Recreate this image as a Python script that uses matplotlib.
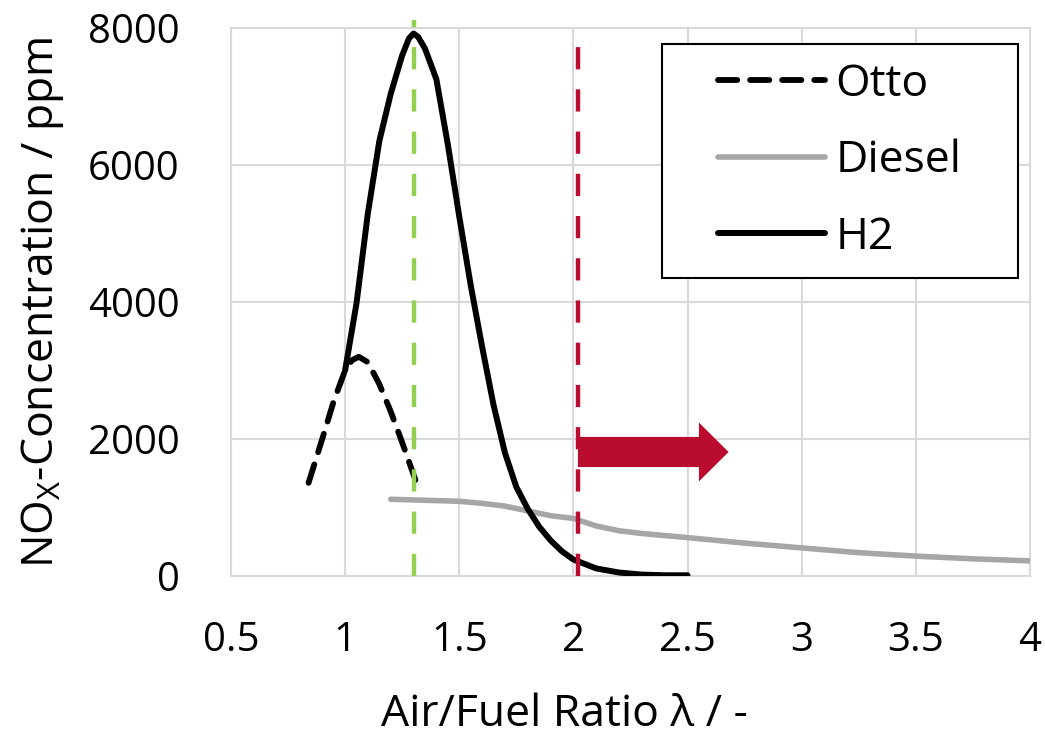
import matplotlib.pyplot as plt
from matplotlib.patches import Rectangle

plt.rcParams['font.family'] = ['Open Sans', 'DejaVu Sans']

# Otto (dashed)
otto_x = [0.84, 0.90, 0.95, 1.00, 1.03, 1.06, 1.10, 1.15, 1.20, 1.25, 1.32]
otto_y = [1360, 2000, 2550, 3000, 3150, 3200, 3120, 2800, 2400, 1950, 1290]

# Diesel (grey)
diesel_x = [1.2, 1.3, 1.4, 1.5, 1.6, 1.7, 1.8, 1.9, 2.0, 2.1, 2.2, 2.3, 2.5, 2.75, 3.0, 3.25, 3.5, 3.75, 4.0]
diesel_y = [1120, 1110, 1100, 1090, 1060, 1020, 950, 880, 840, 730, 660, 620, 560, 480, 410, 340, 290, 250, 220]

# H2 (solid black)
h2_x = [1.00, 1.05, 1.10, 1.15, 1.20, 1.25, 1.28, 1.30, 1.32, 1.35, 1.40, 1.45, 1.50, 1.55, 1.60, 1.65,
        1.70, 1.75, 1.80, 1.85, 1.90, 1.95, 2.00, 2.10, 2.20, 2.30, 2.40, 2.50]
h2_y = [3000, 3980, 5300, 6350, 7040, 7600, 7850, 7920, 7870, 7700, 7250, 6300, 5250, 4250, 3350, 2500,
        1800, 1300, 980, 720, 520, 360, 240, 110, 50, 20, 10, 10]

green_x = 1.30
red_x = 2.02
arrow_start, arrow_end, arrow_y = 2.02, 2.68, 1810

fig = plt.figure(figsize=(10.45, 7.37), dpi=100)
ax = fig.add_axes([0.221, 0.2185, 0.7646, 0.7435])

grid_c = '#D9D9D9'
ax.plot(otto_x, otto_y, color='black', lw=4.2, ls=(0, (3.3, 2.2)), dash_capstyle='round',
        solid_capstyle='round', label='Otto', zorder=4)
ax.plot(diesel_x, diesel_y, color='#A6A6A6', lw=4, solid_capstyle='round', label='Diesel', zorder=3)
ax.plot(h2_x, h2_y, color='black', lw=4.3, solid_capstyle='round', label='H2', zorder=5)

ax.axvline(green_x, ymin=0, ymax=1.015, color='#92D050', lw=3.2, ls=(0, (5, 4.5)), clip_on=False, zorder=6)
ax.axvline(red_x, ymin=0, ymax=0.975, color='#BA0C2F', lw=3.2, ls=(0, (5, 4.5)), zorder=6)
ax.arrow(arrow_start, arrow_y, arrow_end - arrow_start, 0, width=440, head_width=860,
         head_length=0.13, length_includes_head=True, color='#BA0C2F', lw=0, zorder=7)

ax.set_xlim(0.5, 4)
ax.set_ylim(0, 8000)
ax.set_xticks([0.5, 1, 1.5, 2, 2.5, 3, 3.5, 4])
ax.set_xticklabels(['0.5', '1', '1.5', '2', '2.5', '3', '3.5', '4'])
ax.set_yticks([0, 2000, 4000, 6000, 8000])
ax.grid(True, color=grid_c, lw=1.5)
ax.set_axisbelow(True)
for s in ax.spines.values():
    s.set_color(grid_c)
    s.set_linewidth(1.5)
ax.tick_params(length=0, labelsize=29, colors='black')
ax.tick_params(axis='x', pad=32)
ax.tick_params(axis='y', pad=37)

ax.set_xlabel('Air/Fuel Ratio λ / -', fontsize=32)
ax.xaxis.set_label_coords(0.418, -0.212)
ax.set_ylabel(r'NO$_\mathregular{X}$-Concentration / ppm', fontsize=32, labelpad=16)

# legend frame drawn separately so its margins match the original
ax.add_patch(Rectangle((0.539, 0.544), 0.446, 0.427, transform=ax.transAxes, facecolor='white',
                       edgecolor='black', lw=1.5, zorder=9))
leg = ax.legend(loc='center', bbox_to_anchor=(0.762, 0.7575), fontsize=32, frameon=False,
                handlelength=2.4, handletextpad=0.25, labelspacing=0.72, borderpad=0)
leg.set_zorder(10)

fig.savefig('out.png', dpi=100)
